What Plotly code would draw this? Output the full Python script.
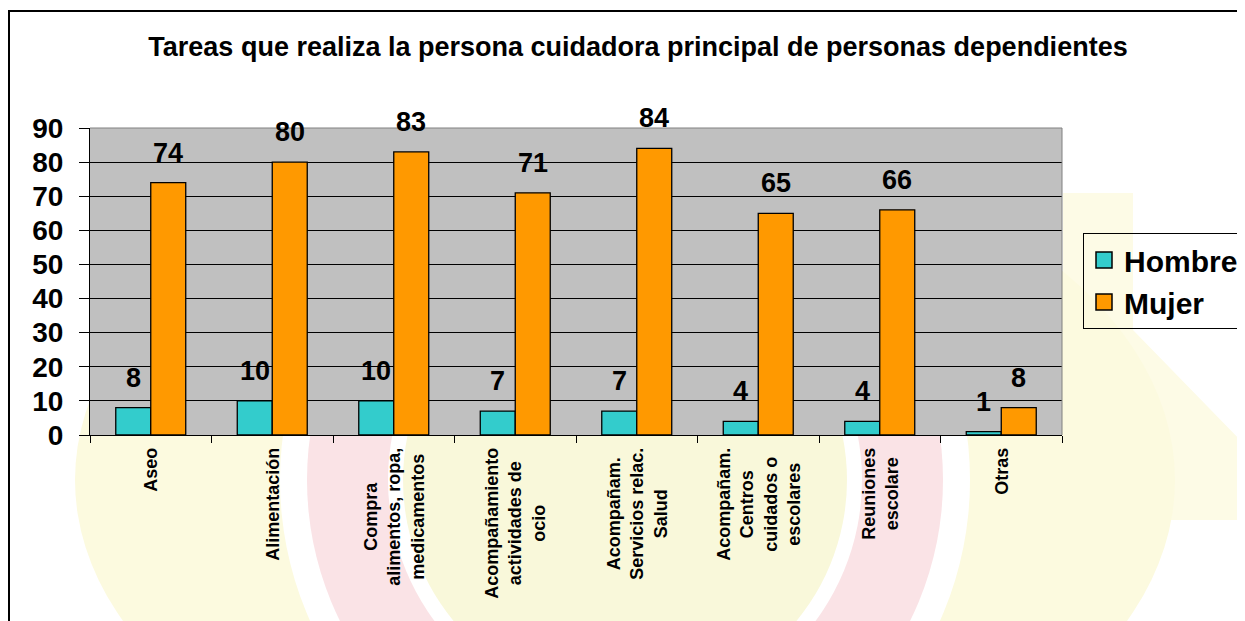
import plotly.graph_objects as go

# ---------------- data ----------------
categories = [
    "Aseo",
    "Alimentación",
    "Compra alimentos, ropa, medicamentos",
    "Acompañamiento actividades de ocio",
    "Acompañam. Servicios relac. Salud",
    "Acompañam. Centros cuidados o escolares",
    "Reuniones escolare",
    "Otras",
]
category_labels = [
    "Aseo",
    "Alimentación",
    "Compra<br>alimentos, ropa,<br>medicamentos",
    "Acompañamiento<br>actividades de<br>ocio",
    "Acompañam.<br>Servicios relac.<br>Salud",
    "Acompañam.<br>Centros<br>cuidados o<br>escolares",
    "Reuniones<br>escolare",
    "Otras",
]
hombre = [8, 10, 10, 7, 7, 4, 4, 1]
mujer = [74, 80, 83, 71, 84, 65, 66, 8]
series_names = ["Hombre", "Mujer"]
series_values = [hombre, mujer]
series_colors = ["#33CCCC", "#FF9900"]
y_ticks = [0, 10, 20, 30, 40, 50, 60, 70, 80, 90]
title_text = "Tareas que realiza la persona cuidadora principal de personas dependientes"

# ---------------- layout geometry ----------------
OFF = 8                      # page body margin of the browser
W, H = 1245 - OFF, 621 - OFF
L, R, T, B = 90, 1062, 128, 435  # plot area in window pixels
FONT = "Liberation Sans, Arial, sans-serif"


def px(x):
    return (x - L) / (R - L)


def py(y):
    return (B - y) / (B - T)


fig = go.Figure()

for name, vals, col in zip(series_names, series_values, series_colors):
    fig.add_trace(go.Bar(
        x=categories, y=vals, name=name,
        marker=dict(color=col, line=dict(color="black", width=1.3)),
        showlegend=False,
    ))
    # legend entry with a larger square symbol
    fig.add_trace(go.Scatter(
        x=[None], y=[None], name=name, mode="markers",
        marker=dict(symbol="square", size=16, color=col,
                    line=dict(color="black", width=1.5)),
        showlegend=True,
    ))

annotations = []
bar_px = 35
offsets = [-bar_px / 2, bar_px / 2]
for vals, off in zip(series_values, offsets):
    for c, v in zip(categories, vals):
        annotations.append(dict(
            x=c, y=v, xref="x", yref="y", text=str(v), showarrow=False,
            xshift=off, yshift=13, yanchor="bottom", xanchor="center",
            font=dict(family=FONT, size=27, color="black", weight="bold"),
        ))

for c, lab in zip(categories, category_labels):
    annotations.append(dict(
        x=c, y=0, xref="x", yref="paper", text=lab, showarrow=False,
        textangle=-90, align="center", xanchor="center", yanchor="top",
        yshift=-11,
        font=dict(family=FONT, size=18, color="black", weight="bold"),
    ))

shapes = []


def ellipse(cx, cy, rx, ry, color):
    return dict(type="circle", xref="paper", yref="paper", layer="below",
                x0=px(cx - rx), x1=px(cx + rx), y0=py(cy + ry), y1=py(cy - ry),
                fillcolor=color, line=dict(width=0))


def polygon(points, color):
    path = "M " + " L ".join(f"{px(x):.5f},{py(y):.5f}" for x, y in points) + " Z"
    return dict(type="path", xref="paper", yref="paper", layer="below", path=path,
                fillcolor=color, line=dict(width=0))


# faint background watermark
cx, cy = 625, 480
shapes.append(polygon([(1063, 193), (1133, 193), (1133, 330), (1245, 445),
                       (1245, 520), (1063, 520)], "#FDFBE6"))
shapes.append(ellipse(cx, cy, 550, 345, "#FCFADF"))
shapes.append(ellipse(cx, cy, 345, 345, "#FFFFFF"))
shapes.append(ellipse(cx, cy, 318, 318, "#FAE3E6"))
shapes.append(ellipse(cx, cy, 237, 237, "#FFFFFF"))
shapes.append(ellipse(cx, cy, 222, 222, "#F9F8DA"))
# grey plot background drawn over the watermark
shapes.append(dict(type="rect", xref="paper", yref="paper", layer="below",
                   x0=0, x1=1, y0=0, y1=1, fillcolor="#C0C0C0", line=dict(width=0)))

# plot-area border (top and right in grey)
shapes.append(dict(type="line", xref="paper", yref="paper", x0=0, x1=1, y0=1, y1=1,
                   line=dict(color="#808080", width=1)))
shapes.append(dict(type="line", xref="paper", yref="paper", x0=1, x1=1, y0=0, y1=1,
                   line=dict(color="#808080", width=1)))
# outer chart frame
shapes.append(dict(type="rect", xref="paper", yref="paper",
                   x0=px(9), x1=px(1300), y0=py(700), y1=py(11),
                   line=dict(color="black", width=2), fillcolor="rgba(0,0,0,0)"))

fig.update_layout(
    width=W, height=H,
    margin=dict(l=L - OFF, r=(W + OFF) - R, t=T - OFF, b=(H + OFF) - B, pad=0,
                autoexpand=False),
    paper_bgcolor="white",
    plot_bgcolor="rgba(0,0,0,0)",
    barmode="group",
    bargap=0.424,
    bargroupgap=0,
    title=dict(text=title_text, xref="container", yref="container",
               x=(638 - OFF) / W, y=1 - (47 - OFF) / H, xanchor="center", yanchor="middle",
               font=dict(family=FONT, size=27, color="black", weight="bold")),
    xaxis=dict(type="category", showline=True, linecolor="black", linewidth=1,
               ticks="outside", tickson="boundaries", ticklen=7, tickcolor="black",
               showticklabels=False, showgrid=False, zeroline=False, automargin=False),
    yaxis=dict(range=[0, 90], tickvals=y_ticks, showgrid=True, gridcolor="black",
               gridwidth=1, showline=True, linecolor="black", linewidth=1,
               ticks="outside", ticklen=10, tickcolor="black", zeroline=False,
               ticklabelstandoff=10, automargin=False,
               tickfont=dict(family=FONT, size=28, color="black", weight="bold")),
    legend=dict(x=px(1083), y=py(233), xanchor="left", yanchor="top",
                bordercolor="black", borderwidth=1, bgcolor="rgba(0,0,0,0)",
                font=dict(family=FONT, size=30, color="black", weight="bold"),
                itemsizing="trace", tracegroupgap=0),
    annotations=annotations,
    shapes=shapes,
)

fig.write_html("out.html")
